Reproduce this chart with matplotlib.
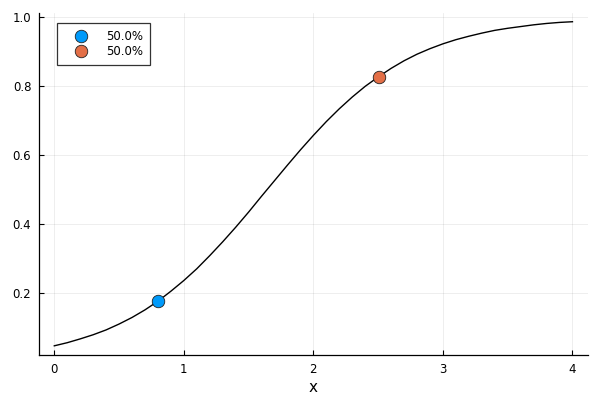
import numpy as np
import matplotlib
matplotlib.use('Agg')
import matplotlib.pyplot as plt

# curve, every 0.1 on x
curve_x = [0.0, 0.1, 0.2, 0.3, 0.4, 0.5, 0.6, 0.7, 0.8, 0.9,
           1.0, 1.1, 1.2, 1.3, 1.4, 1.5, 1.6, 1.7, 1.8, 1.9,
           2.0, 2.1, 2.2, 2.3, 2.4, 2.5, 2.6, 2.7, 2.8, 2.9,
           3.0, 3.1, 3.2, 3.3, 3.4, 3.5, 3.6, 3.7, 3.8, 3.9, 4.0]
curve_y = [0.048, 0.057, 0.068, 0.080, 0.094, 0.111, 0.130, 0.152, 0.177, 0.206,
           0.237, 0.271, 0.309, 0.349, 0.391, 0.435, 0.481, 0.526, 0.571, 0.615,
           0.657, 0.697, 0.734, 0.768, 0.799, 0.826, 0.851, 0.873, 0.892, 0.908,
           0.922, 0.934, 0.944, 0.953, 0.961, 0.967, 0.972, 0.977, 0.981, 0.984, 0.986]

# the two marked points
pt_x = [0.8, 2.51]
pt_y = [0.178, 0.826]
pt_labels = ['50.0%', '50.0%']
pt_colors = ['#009AFA', '#E36F47']

plt.rcParams['font.family'] = ['DejaVu Sans']

fig = plt.figure(figsize=(6, 4), dpi=100)
ax = fig.add_axes([39 / 600, 45 / 400, 549 / 600, 342.5 / 400])

ax.plot(curve_x, curve_y, color='black', lw=1, zorder=2)
for i in range(len(pt_x)):
    ax.plot(pt_x[i], pt_y[i], 'o', color=pt_colors[i], markersize=9,
            markeredgecolor='#222222', markeredgewidth=0.6, label=pt_labels[i], zorder=3)

ax.set_xlim(-0.118, 4.12)
ax.set_ylim(0.0214, 1.0127)
ax.set_xticks([0, 1, 2, 3, 4])
ax.set_yticks([0.2, 0.4, 0.6, 0.8, 1.0])
ax.set_yticklabels(['0.2', '0.4', '0.6', '0.8', '1.0'])
ax.tick_params(direction='in', length=3.3, width=0.8, labelsize=8.5, pad=5.5)
ax.set_xlabel('x', fontsize=11, labelpad=3)

for s in ['top', 'right']:
    ax.spines[s].set_visible(False)
for s in ['left', 'bottom']:
    ax.spines[s].set_linewidth(0.9)
ax.grid(True, color='black', alpha=0.08, lw=0.6)
ax.set_axisbelow(True)

leg = ax.legend(loc='upper left', bbox_to_anchor=(0.033, 0.9685), borderaxespad=0,
                fontsize=8.5, frameon=True, fancybox=False, edgecolor='black',
                handlelength=3.0, handletextpad=0.6, borderpad=0.55, labelspacing=0.2,
                markerscale=1.0)
leg.get_frame().set_linewidth(0.9)

fig.savefig('out.png', dpi=100)
